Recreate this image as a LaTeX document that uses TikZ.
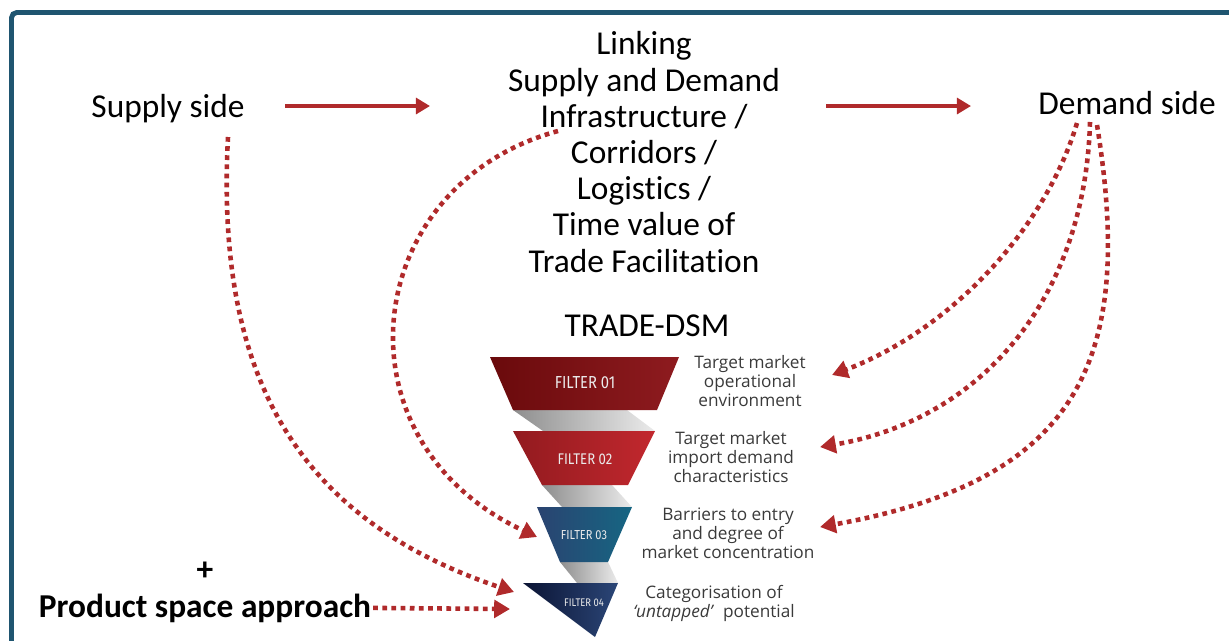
\documentclass[tikz,border=0pt]{standalone}
\usepackage{graphicx}
\usepackage{fontspec}
\setmainfont{Carlito}[Ligatures=NoCommon]
\newfontfamily\notefont{Open Sans}
\newfontfamily\filterfont{Fira Sans}
\usetikzlibrary{arrows.meta,calc,positioning}

\definecolor{framebl}{HTML}{1F5570}
\definecolor{linkred}{HTML}{B02A2B}
\definecolor{notegrey}{HTML}{3A3A3A}
\definecolor{fone}{HTML}{6A0A0C}
\definecolor{fonebr}{HTML}{8E1B1F}
\definecolor{ftwo}{HTML}{921A1F}
\definecolor{ftwobr}{HTML}{C2282E}
\definecolor{fthree}{HTML}{2A4370}
\definecolor{fthreebr}{HTML}{166683}
\definecolor{ffour}{HTML}{0B1434}
\definecolor{ffourbr}{HTML}{2B4677}
\definecolor{bandgrey}{HTML}{8E8E8E}
\definecolor{bandlight}{HTML}{EBEBEB}

\newcommand{\filterlabel}[2]{\scalebox{0.85}[1]{\filterfont\fontsize{#1}{#1}\selectfont FILTER #2}}

\begin{document}
\begin{tikzpicture}[x=0.02cm,y=-0.02cm,
every node/.style={inner sep=1pt},
head/.style={font=\fontsize{19}{20.6}\selectfont,align=center},
note/.style={font=\notefont\fontsize{9.8}{10.8}\selectfont,text=notegrey,align=center},
ftext/.style={text=white!92!black},
link/.style={linkred,line width=2.2pt,-{Triangle[length=8pt,width=9pt]}},
dotlink/.style={linkred,line width=2.6pt,dash pattern=on 2.7pt off 2.5pt,-{Triangle[length=9pt,width=10pt]}}]
\useasboundingbox (0,0) rectangle (1229,640);
\clip (0,0) rectangle (1229,640);
\draw[framebl,line width=2.8pt,rounded corners=3pt] (11.5,12.5) rectangle (1280,700);

% top row and the bold note at the bottom
\node[head,anchor=base] (supply) at (168,117) {Supply side};
\node[head,anchor=base] (demand) at (1127,114) {Demand side};
\node[head] (linking) at (644,152) {Linking\\Supply and Demand\\Infrastructure /\\Corridors /\\Logistics /\\Time value of\\Trade Facilitation};
\node[head,anchor=base] (dsm) at (647,336) {TRADE-DSM};
\node[head,font=\fontsize{19}{20.6}\selectfont\bfseries] (plus) at (205,571) {+};
\node[head,font=\fontsize{19}{20.6}\selectfont\bfseries,anchor=base] (product) at (205,617) {Product space approach};

% funnel
\shade[left color=bandgrey,right color=bandlight] (513,410) -- (627,410) -- (655,431) -- (543,431) -- cycle;
\shade[left color=bandgrey,right color=bandlight] (542,485) -- (612,485) -- (632,507) -- (562,507) -- cycle;
\shade[left color=bandgrey,right color=bandlight] (560,562) -- (608,562) -- (618,583) -- (577,583) -- cycle;
\shade[left color=fone,right color=fonebr] (490,357) -- (679,357) -- (657,410) -- (513,410) -- cycle;
\shade[left color=ftwo,right color=ftwobr] (513,431) -- (655,431) -- (628,485) -- (542,485) -- cycle;
\shade[left color=fthree,right color=fthreebr] (537,507) -- (632,507) -- (608,562) -- (560,562) -- cycle;
\shade[left color=ffour,right color=ffourbr] (523,583) -- (618,583) -- (595,637) -- cycle;
\node[ftext] (f1) at (585,383) {\filterlabel{9.9}{01}};
\node[ftext] (f2) at (585,459) {\filterlabel{8.8}{02}};
\node[ftext] (f3) at (584,535) {\filterlabel{7.4}{03}};
\node[ftext] (f4) at (584,603) {\filterlabel{6.3}{04}};

\node[note] (n1) at (750,381) {Target market\\operational\\environment};
\node[note] (n2) at (731,457) {Target market\\import demand\\characteristics};
\node[note] (n3) at (728,533) {Barriers to entry\\and degree of\\market concentration};
\node[note] (n4) at (714,603) {Categorisation of\\\textit{‘untapped’}\ \ potential};

% arrow ends
\coordinate (sa) at (285,106);
\coordinate (sb) at (430,106);
\coordinate (da) at (826,106);
\coordinate (db) at (971,106);
\coordinate (supplyout) at (228,137);
\coordinate (infraout) at (558,131);
\coordinate (dm1) at (1077,123);
\coordinate (dm2) at (1090,122);
\coordinate (dm3) at (1097,125);
\coordinate (f3in) at (537,537);
\coordinate (f4in) at (514,592);
\coordinate (f4side) at (510,609);
\coordinate (n1in) at (832,375);
\coordinate (n2in) at (820,447);
\coordinate (n3in) at (820,527);

\draw[link] (sa) -- (sb);
\draw[link] (da) -- (db);
\draw[dotlink] (supplyout) .. controls (215,380) and (300,520) .. (f4in);
\draw[dotlink] (infraout) .. controls (360,185) and (330,440) .. (f3in);
\draw[dotlink] (product.east) -- (f4side);
\draw[dotlink] (dm1) .. controls (1045,230) and (950,330) .. (n1in);
\draw[dotlink] (dm2) .. controls (1085,300) and (980,420) .. (n2in);
\draw[dotlink] (dm3) .. controls (1135,360) and (1080,480) .. (n3in);
\end{tikzpicture}
\end{document}
